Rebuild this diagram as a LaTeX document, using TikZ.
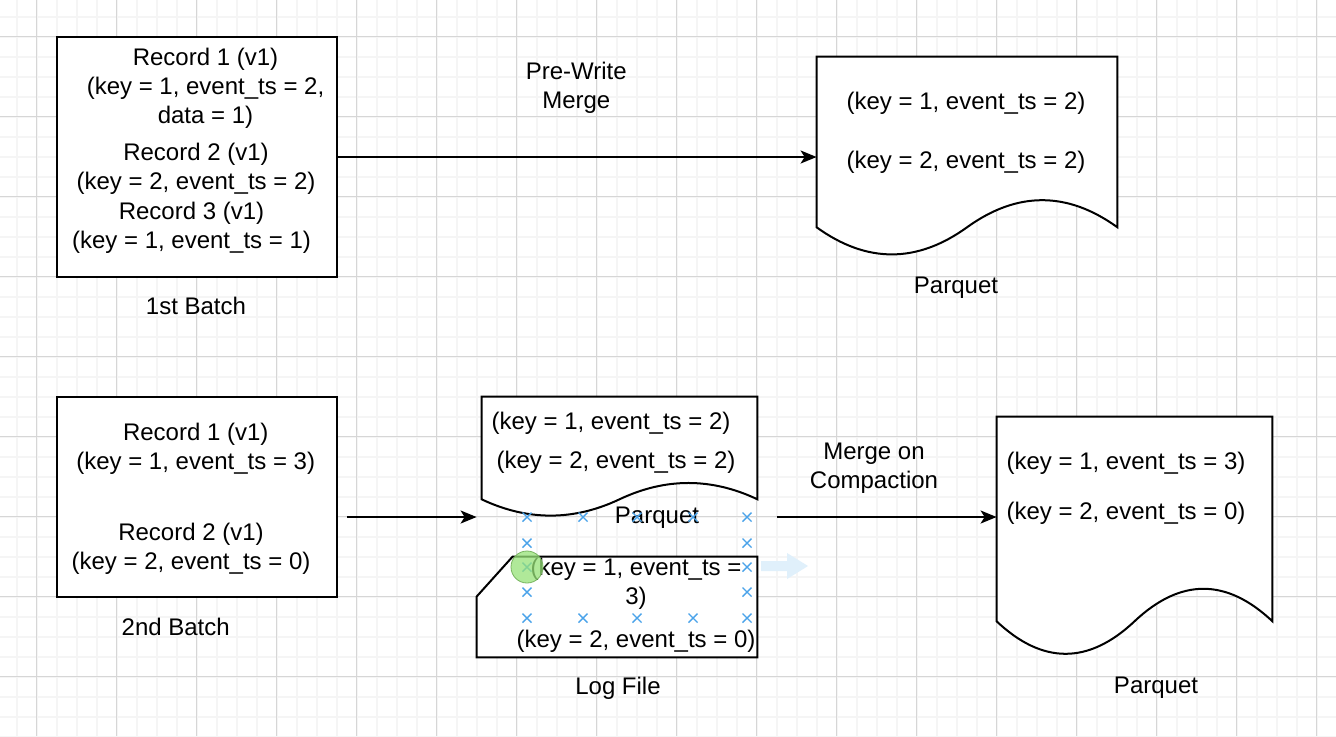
\documentclass[tikz,border=0pt]{standalone}
\usepackage{fontspec}
\setmainfont{Liberation Sans}
\usetikzlibrary{arrows.meta,calc}
\definecolor{gridlight}{RGB}{245,245,245}
\definecolor{griddark}{RGB}{214,214,214}
\definecolor{selblue}{RGB}{74,163,234}
\definecolor{hintblue}{RGB}{224,240,251}
\definecolor{hovergreen}{RGB}{150,226,120}

% document outline with wavy bottom, drawn round a named node
\newcommand\wavedoc[1]{%
  \draw[outline] let \p1=(#1.north west), \p2=(#1.south east),
      \n1={\x2-\x1}, \n2={\y1-\y2} in
    (\p1) -- (\x2,\y1) -- (\x2,{\y2+0.15*\n2})
    .. controls ({\x1+0.8333*\n1},{\y2+0.33*\n2}) and ({\x1+0.6667*\n1},{\y2+0.33*\n2}) .. ({\x1+0.5*\n1},{\y2+0.15*\n2})
    .. controls ({\x1+0.3333*\n1},{\y2-0.03*\n2}) and ({\x1+0.1667*\n1},{\y2-0.03*\n2}) .. (\x1,{\y2+0.15*\n2})
    -- cycle;}

\begin{document}
\begin{tikzpicture}[
    x=0.5pt, y=-0.5pt,
    recbox/.style={draw, line width=1pt, fill=white, minimum width=140pt, inner sep=0pt},
    docbox/.style={inner sep=0pt},
    outline/.style={draw, line width=1pt, fill=white},
    txt/.style={font=\fontsize{12}{14.4}\selectfont, align=center, inner sep=0pt, yshift=-0.6pt},
    arr/.style={-{Stealth[length=8pt, width=6.5pt, inset=2pt]}, line width=1pt},
    selmark/.style={selblue, line width=0.7pt}
]
\useasboundingbox (0,0) rectangle (1336,736);
\fill[white] (0,0) rectangle (1336,736);

% grid
\foreach \i in {0,...,66} \draw[gridlight, line width=0.9pt] ({16.7+20*\i},0) -- ({16.7+20*\i},736);
\foreach \i in {0,...,36} \draw[gridlight, line width=0.9pt] (0,{16.7+20*\i}) -- (1336,{16.7+20*\i});
\foreach \i in {0,...,16} \draw[griddark, line width=0.5pt] ({36.7+80*\i},0) -- ({36.7+80*\i},736);
\foreach \i in {0,...,8} \draw[griddark, line width=0.5pt] (0,{36.7+80*\i}) -- (1336,{36.7+80*\i});

% first batch
\node[recbox, minimum height=120pt] (batch1) at (197,157) {};
\node[txt] (rec1a) at (205.5,87.2) {Record 1 (v1)\\(key = 1, event\_ts = 2,\\data = 1)};
\node[txt] (rec1b) at (196,167.2) {Record 2 (v1)\\(key = 2, event\_ts = 2)};
\node[txt] (rec1c) at (191.5,226.2) {Record 3 (v1)\\(key = 1, event\_ts = 1)};
\node[txt] (lab1) at (196,305) {1st Batch};

\node[docbox, minimum width=150pt, minimum height=100pt] (pq1) at (967,157) {};
\wavedoc{pq1}
\node[txt] (pq1txt) at (966,131.5) {(key = 1, event\_ts = 2)\\[15.1pt](key = 2, event\_ts = 2)};
\node[txt] (pq1lab) at (956,287) {Parquet};
\node[txt] (merge1) at (576.3,86.2) {Pre-Write\\Merge};

% second batch
\node[recbox, minimum height=100pt] (batch2) at (197,497) {};
\node[txt] (rec2a) at (195.7,447.2) {Record 1 (v1)\\(key = 1, event\_ts = 3)};
\node[txt] (rec2b) at (191,547.2) {Record 2 (v1)\\(key = 2, event\_ts = 0)};
\node[txt] (lab2) at (175.7,626) {2nd Batch};

\node[docbox, minimum width=137.5pt, minimum height=60pt] (pq2) at (619.5,457) {};
\wavedoc{pq2}
\node[txt] (pq2a) at (611,422) {(key = 1, event\_ts = 2)};
\node[txt] (pq2b) at (616,461) {(key = 2, event\_ts = 2)};
\node[txt] (pq2lab) at (657,517) {Parquet};

\node[docbox, minimum width=140pt, minimum height=50pt] (logf) at (617,607) {};
\draw[outline] ([yshift=-20pt]logf.north west) -- ([xshift=18pt]logf.north west)
    -- (logf.north east) -- (logf.south east) -- (logf.south west) -- cycle;
\node[txt] (logtxt) at (636,604) {(key = 1, event\_ts =\\3)\\[7pt](key = 2, event\_ts = 0)};
\node[txt] (loglab) at (618,687) {Log File};

\node[docbox, minimum width=137.5pt, minimum height=120pt] (pq3) at (1134.5,537) {};
\wavedoc{pq3}
\node[txt] (pq3txt) at (1126,487) {(key = 1, event\_ts = 3)\\[10.6pt](key = 2, event\_ts = 0)};
\node[txt] (pq3lab) at (1156,687) {Parquet};
\node[txt] (merge2) at (874,467.2) {Merge on\\Compaction};

% connectors
\coordinate (gap2) at (347,517);
\coordinate (gap3) at (777,517);
\draw[arr] (batch1) -- (pq1);
\draw[arr] (gap2) -- (gap2 -| logf.west);
\draw[arr] (gap3) -- (gap3 -| pq3.west);

% selection handles left on the log file
\foreach \mx/\my in {527/517,583/517,637/517,693/517,747/517,
                     527/543,747/543,527/567,747/567,527/592,747/592,
                     527/618,583/618,637/618,693/618,747/618}
  \draw[selmark] ({\mx-4.5},{\my-4.5}) -- ({\mx+4.5},{\my+4.5})
                 ({\mx-4.5},{\my+4.5}) -- ({\mx+4.5},{\my-4.5});
\draw[draw=hovergreen!80!black, line width=0.4pt, fill=hovergreen, fill opacity=0.75] (527,567) circle[radius=8pt];
\fill[hintblue] (761,561) -- (787,561) -- (787,553) -- (808,566) -- (787,579) -- (787,571) -- (761,571) -- cycle;
\end{tikzpicture}
\end{document}
